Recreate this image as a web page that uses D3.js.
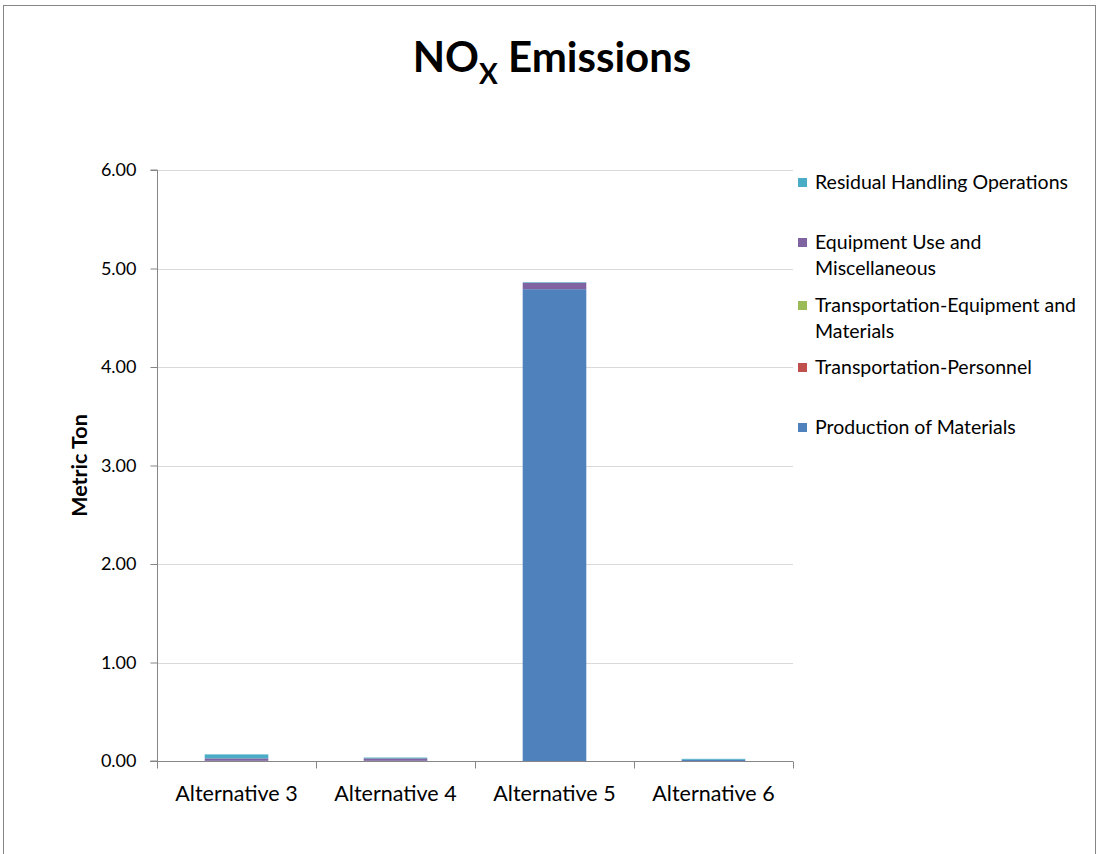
<!DOCTYPE html>
<html>
<head>
<meta charset="utf-8">
<script src="https://cdn.jsdelivr.net/npm/d3@7"></script>
<style>
  html, body { margin: 0; padding: 0; background: #fff; }
  svg { display: block; font-family: Lato, "Open Sans", "Liberation Sans", sans-serif; }
</style>
</head>
<body>
<svg id="chart" width="1097" height="854"></svg>
<script>
// Categories along the x axis
const categories = ["Alternative 3", "Alternative 4", "Alternative 5", "Alternative 6"];

// Stacked series, bottom to top (metric tons)
const seriesNames = [
  "Production of Materials",
  "Transportation-Personnel",
  "Transportation-Equipment and Materials",
  "Equipment Use and Miscellaneous",
  "Residual Handling Operations"
];
const production      = [0.002, 0.002, 4.79, 0.010];
const transPersonnel  = [0.000, 0.000, 0.000, 0.000];
const transEquipment  = [0.000, 0.000, 0.000, 0.000];
const equipmentUse    = [0.025, 0.025, 0.065, 0.002];
const residual        = [0.040, 0.008, 0.006, 0.010];

const seriesColors = ["#4F81BD", "#C0504D", "#9BBB59", "#8064A2", "#4BACC6"];
const yTicks = [0, 1, 2, 3, 4, 5, 6];

// Legend entries (top to bottom), wrapped onto lines
const legendEntries = [
  { idx: 4, lines: ["Residual Handling Operations"] },
  { idx: 3, lines: ["Equipment Use and", "Miscellaneous"] },
  { idx: 2, lines: ["Transportation-Equipment and", "Materials"] },
  { idx: 1, lines: ["Transportation-Personnel"] },
  { idx: 0, lines: ["Production of Materials"] }
];

const rows = categories.map((c, i) => ({
  category: c,
  s0: production[i], s1: transPersonnel[i], s2: transEquipment[i],
  s3: equipmentUse[i], s4: residual[i]
}));
const keys = ["s0", "s1", "s2", "s3", "s4"];

const svg = d3.select("#chart");

// Outer chart frame
svg.append("rect")
  .attr("x", 3.5).attr("y", 5.5).attr("width", 1092).attr("height", 860)
  .attr("fill", "none").attr("stroke", "#868686").attr("stroke-width", 1);

const plot = { left: 157, right: 793, top: 170, bottom: 761 };

const x = d3.scaleBand().domain(categories).range([plot.left, plot.right]).paddingInner(0.6).paddingOuter(0.3);
const xOuter = d3.scaleBand().domain(categories).range([plot.left, plot.right]);
const y = d3.scaleLinear().domain([0, 6]).range([plot.bottom, plot.top]);

// Gridlines
svg.append("g").selectAll("line").data(yTicks.filter(t => t > 0)).join("line")
  .attr("x1", plot.left).attr("x2", plot.right)
  .attr("y1", d => Math.round(y(d)) + 0.5).attr("y2", d => Math.round(y(d)) + 0.5)
  .attr("stroke", "#d9d9d9").attr("stroke-width", 1);

// Stacked bars
const stack = d3.stack().keys(keys)(rows);
svg.append("g").selectAll("g").data(stack).join("g")
  .attr("fill", (d, i) => seriesColors[i])
  .selectAll("rect").data(d => d).join("rect")
  .attr("x", d => x(d.data.category))
  .attr("width", x.bandwidth())
  .attr("y", d => y(d[1]))
  .attr("height", d => Math.max(0, y(d[0]) - y(d[1])));

// Y axis
const yAxis = d3.axisLeft(y).tickValues(yTicks).tickFormat(d3.format(".2f")).tickSize(7).tickPadding(14);
const gy = svg.append("g").attr("transform", `translate(${plot.left + 0.5},0)`).call(yAxis);
gy.selectAll("path, line").attr("stroke", "#868686");
gy.select(".domain").attr("d", `M-7,${y(6)}H0V${y(0)}H-7`);
gy.selectAll("text").attr("font-size", 18).attr("fill", "#000")
  .attr("font-family", "Lato, 'Open Sans', sans-serif");

// X axis with tick marks at category boundaries
const gx = svg.append("g").attr("transform", `translate(0,${plot.bottom + 0.5})`);
gx.append("line").attr("x1", plot.left - 7).attr("x2", plot.right)
  .attr("stroke", "#868686");
const boundaries = categories.map(c => xOuter(c)).concat([plot.right]);
gx.selectAll("line.tick").data(boundaries).join("line").attr("class", "tick")
  .attr("x1", d => Math.round(d) + 0.5).attr("x2", d => Math.round(d) + 0.5)
  .attr("y1", 0).attr("y2", 7).attr("stroke", "#868686");
gx.selectAll("text").data(categories).join("text")
  .attr("x", d => xOuter(d) + xOuter.bandwidth() / 2)
  .attr("y", 39)
  .attr("text-anchor", "middle").attr("font-size", 21.5).attr("fill", "#000")
  .text(d => d);

// Y axis title
svg.append("text")
  .attr("transform", `translate(87,${(plot.top + plot.bottom) / 2}) rotate(-90)`)
  .attr("text-anchor", "middle").attr("font-size", 21.5).attr("font-weight", "bold")
  .text("Metric Ton");

// Title with subscript
const title = svg.append("text")
  .attr("x", 552).attr("y", 72).attr("text-anchor", "middle")
  .attr("font-size", 42).attr("font-weight", "bold");
title.append("tspan").text("NO");
title.append("tspan").attr("font-size", 28).attr("dy", 12).text("X");
title.append("tspan").attr("dy", -12).text(" Emissions");

// Legend
const legendTops = [182, 242, 305, 367, 427];
const lg = svg.append("g");
legendEntries.forEach((e, k) => {
  const ty = legendTops[k];
  lg.append("rect").attr("x", 798).attr("y", ty - 4).attr("width", 9).attr("height", 9)
    .attr("fill", seriesColors[e.idx]);
  e.lines.forEach((ln, j) => {
    lg.append("text").attr("x", 815).attr("y", ty + 7 + j * 26)
      .attr("font-size", 19.5).attr("fill", "#000").text(ln);
  });
});
</script>
</body>
</html>
